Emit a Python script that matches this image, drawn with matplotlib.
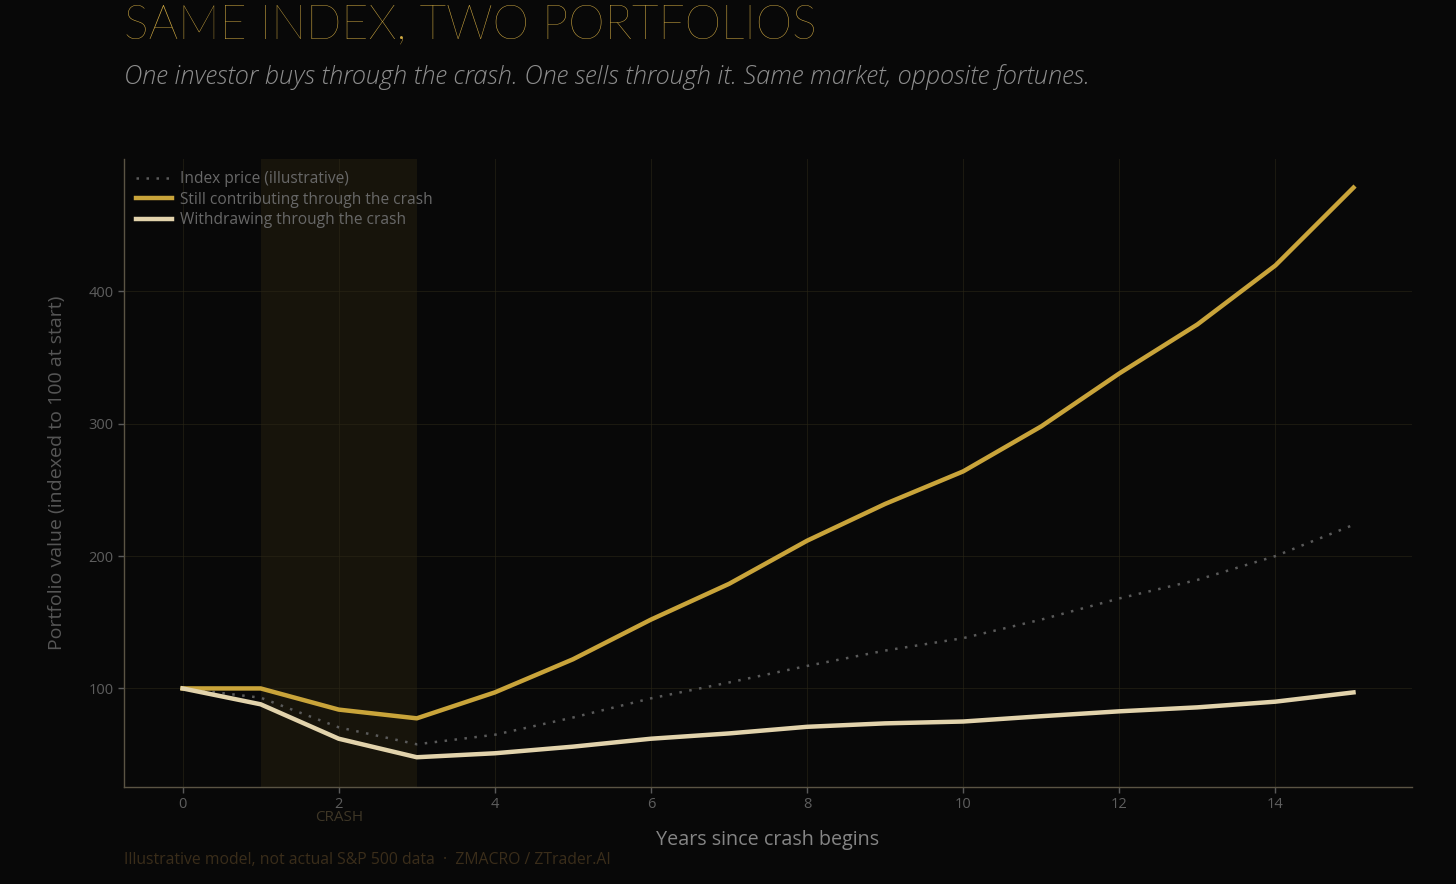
import matplotlib
matplotlib.use("Agg")
import matplotlib.pyplot as plt

# data
years = list(range(16))
index_price = [100, 93, 70.6, 57.8, 65, 78, 92.5, 104.5, 117, 128.6, 138, 152, 168, 182, 200, 223.6]
contributing = [100, 100, 84, 77.4, 97, 122, 152, 179, 211.6, 239.4, 264, 298, 338, 375, 419.6, 478.4]
withdrawing = [100, 88, 62, 48, 51, 56, 62, 66, 71, 73.6, 75, 79, 82.7, 85.7, 90, 97]
crash_start, crash_end = 1, 3
xticks = [0, 2, 4, 6, 8, 10, 12, 14]
yticks = [100, 200, 300, 400]

BG = "#080808"
GOLD = "#c9a43a"
CREAM = "#e2d3ac"

plt.rcParams['font.family'] = ['Open Sans', 'DejaVu Sans']

fig = plt.figure(figsize=(14.56, 8.84), dpi=100, facecolor=BG)
ax = fig.add_axes([0.0852, 0.1097, 0.8846, 0.7104])
ax.set_facecolor(BG)

ax.axvspan(crash_start, crash_end, color="#2a2410", alpha=0.45, lw=0, zorder=0)

ax.plot(years, index_price, color="#5a5a5a", lw=1.8, ls=(0, (1, 3)),
        label="Index price (illustrative)", zorder=2)
ax.plot(years, contributing, color=GOLD, lw=3.2,
        label="Still contributing through the crash", zorder=3)
ax.plot(years, withdrawing, color=CREAM, lw=3.2,
        label="Withdrawing through the crash", zorder=3)

ax.set_xticks(xticks)
ax.set_yticks(yticks)
ax.grid(True, color="#2a2616", lw=0.7, alpha=0.6)
ax.set_axisbelow(True)

for s in ["top", "right"]:
    ax.spines[s].set_visible(False)
for s in ["left", "bottom"]:
    ax.spines[s].set_color("#5a5444")
    ax.spines[s].set_linewidth(1.0)

ax.tick_params(colors="#5a5a5a", labelsize=10.5, length=4, width=1)
ax.tick_params(axis="x", labelcolor="#5e5e5e")
ax.tick_params(axis="y", labelcolor="#5e5e5e")

ax.set_xlabel("Years since crash begins", color="#858585", fontsize=14.2,
              labelpad=13)
ax.set_ylabel("Portfolio value (indexed to 100 at start)", color="#565656",
              fontsize=14, labelpad=16)

# crash label sits just under the tick labels
ax.text((crash_start + crash_end) / 2, -0.037, "CRASH", transform=ax.get_xaxis_transform(),
        ha="center", va="top", color="#3e3626", fontsize=11)

leg = ax.legend(loc="upper left", frameon=False, fontsize=11.2, handlelength=2.3,
                handletextpad=0.5, borderaxespad=0.4, labelspacing=0.28)
for t in leg.get_texts():
    t.set_color("#686868")

fig.text(0.0852, 0.971, "SAME INDEX, TWO PORTFOLIOS", color="#d2ab42", fontsize=33.5,
         family=['Lato', 'DejaVu Sans'], fontweight="light", va="center", ha="left")
fig.text(0.0852, 0.913, "One investor buys through the crash. One sells through it. "
         "Same market, opposite fortunes.", color="#8e8e8e", fontsize=18.3,
         fontstyle="italic", fontweight="light", va="center", ha="left")
fig.text(0.0852, 0.027, "Illustrative model, not actual S&P 500 data  \u00b7  ZMACRO / ZTrader.AI",
         color="#3a2d1a", fontsize=11.3, va="center", ha="left")

ax.set_xlim(-0.75, 15.75)
ax.set_ylim(25.5, 500)

fig.savefig("out.png", dpi=100, facecolor=BG)
